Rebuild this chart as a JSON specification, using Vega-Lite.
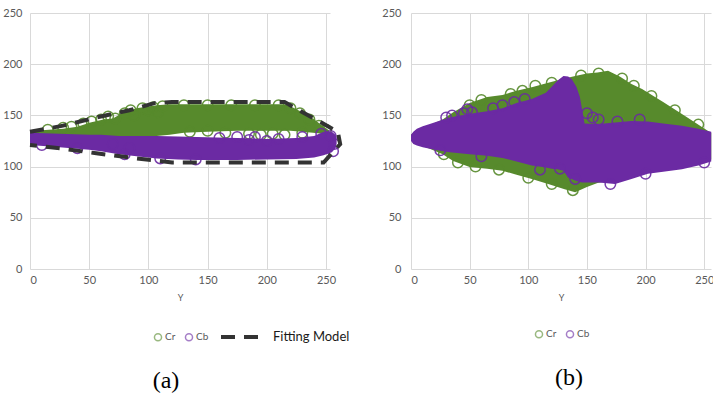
{
  "$schema": "https://vega.github.io/schema/vega-lite/v6.json",
  "background": "white",
  "padding": {"left": 2, "top": 7, "right": 0, "bottom": 0},
  "spacing": 32,
  "datasets": {
    "a_cr": [{"Y":0,"lo":128,"hi":134},{"Y":10,"lo":129,"hi":135.5},{"Y":28,"lo":129,"hi":137},{"Y":40,"lo":129,"hi":139},{"Y":51,"lo":129,"hi":143},{"Y":62,"lo":129,"hi":146},{"Y":70,"lo":129,"hi":147},{"Y":79,"lo":129,"hi":153},{"Y":90,"lo":129,"hi":157},{"Y":107,"lo":130,"hi":160},{"Y":118,"lo":131,"hi":161},{"Y":130,"lo":133,"hi":161},{"Y":150,"lo":134,"hi":161},{"Y":175,"lo":135,"hi":161},{"Y":200,"lo":135,"hi":161},{"Y":214,"lo":135,"hi":161},{"Y":220,"lo":135,"hi":159},{"Y":230,"lo":134,"hi":153},{"Y":239,"lo":133,"hi":147},{"Y":247,"lo":132,"hi":140},{"Y":253,"lo":131,"hi":135}],
    "a_cb": [{"Y":0,"lo":121,"hi":133},{"Y":25,"lo":119,"hi":132},{"Y":50,"lo":116.5,"hi":131},{"Y":60,"lo":115,"hi":131},{"Y":75,"lo":112,"hi":130},{"Y":90,"lo":110,"hi":130},{"Y":107,"lo":108,"hi":130},{"Y":125,"lo":107,"hi":129.5},{"Y":141,"lo":106.5,"hi":129},{"Y":175,"lo":106.5,"hi":128},{"Y":200,"lo":107,"hi":127},{"Y":225,"lo":107.5,"hi":128},{"Y":240,"lo":109,"hi":130},{"Y":248,"lo":111,"hi":134},{"Y":255,"lo":114,"hi":134},{"Y":258,"lo":118,"hi":131},{"Y":259,"lo":122,"hi":128}],
    "a_pts": [
      {"s":"Cr","Y":15,"v":136},{"s":"Cr","Y":28,"v":138},{"s":"Cr","Y":35,"v":139},{"s":"Cr","Y":45,"v":142},{"s":"Cr","Y":52,"v":144},{"s":"Cr","Y":60,"v":146},{"s":"Cr","Y":66,"v":149},{"s":"Cr","Y":72,"v":147},{"s":"Cr","Y":80,"v":152},{"s":"Cr","Y":85,"v":155},{"s":"Cr","Y":88,"v":150},{"s":"Cr","Y":95,"v":157},{"s":"Cr","Y":100,"v":155},{"s":"Cr","Y":104,"v":158},{"s":"Cr","Y":108,"v":153},{"s":"Cr","Y":112,"v":159},{"s":"Cr","Y":130,"v":160},{"s":"Cr","Y":150,"v":160},{"s":"Cr","Y":170,"v":160},{"s":"Cr","Y":190,"v":160},{"s":"Cr","Y":210,"v":160},{"s":"Cr","Y":220,"v":157},{"s":"Cr","Y":228,"v":152},{"s":"Cr","Y":236,"v":146},{"s":"Cr","Y":244,"v":140},{"s":"Cr","Y":250,"v":136},{"s":"Cr","Y":135,"v":134},{"s":"Cr","Y":150,"v":135},{"s":"Cr","Y":165,"v":133},{"s":"Cr","Y":185,"v":132},{"s":"Cr","Y":195,"v":131},{"s":"Cr","Y":205,"v":132},{"s":"Cr","Y":215,"v":131},{"s":"Cr","Y":230,"v":133},
      {"s":"Cb","Y":160,"v":128},{"s":"Cb","Y":185,"v":126},{"s":"Cb","Y":200,"v":125},{"s":"Cb","Y":210,"v":127},{"s":"Cb","Y":175,"v":129},{"s":"Cb","Y":190,"v":129},{"s":"Cb","Y":230,"v":129},{"s":"Cb","Y":246,"v":132},{"s":"Cb","Y":254,"v":130},{"s":"Cb","Y":257,"v":122},{"s":"Cb","Y":256,"v":115},{"s":"Cb","Y":110,"v":108},{"s":"Cb","Y":80,"v":112},{"s":"Cb","Y":40,"v":118},{"s":"Cb","Y":10,"v":121},{"s":"Cb","Y":140,"v":107},{"s":"Cb","Y":84,"v":118},{"s":"Cb","Y":70,"v":122}
    ],
    "a_fit": [{"m":"Fitting Model","i":1,"Y":0,"v":134},{"m":"Fitting Model","i":2,"Y":28,"v":140},{"m":"Fitting Model","i":3,"Y":56,"v":148},{"m":"Fitting Model","i":4,"Y":84,"v":155},{"m":"Fitting Model","i":5,"Y":105,"v":162},{"m":"Fitting Model","i":6,"Y":120,"v":163},{"m":"Fitting Model","i":7,"Y":215,"v":163},{"m":"Fitting Model","i":8,"Y":260,"v":134},{"m":"Fitting Model","i":9,"Y":262,"v":122},{"m":"Fitting Model","i":10,"Y":248,"v":104},{"m":"Fitting Model","i":11,"Y":120,"v":104},{"m":"Fitting Model","i":12,"Y":90,"v":108},{"m":"Fitting Model","i":13,"Y":56,"v":113},{"m":"Fitting Model","i":14,"Y":28,"v":117.5},{"m":"Fitting Model","i":15,"Y":0,"v":121}],
    "b_cr": [{"Y":0,"lo":126,"hi":131},{"Y":5,"lo":122,"hi":135},{"Y":15,"lo":118,"hi":140},{"Y":27,"lo":112,"hi":146},{"Y":36,"lo":105.5,"hi":153},{"Y":50,"lo":99.5,"hi":162},{"Y":65,"lo":98,"hi":168},{"Y":78,"lo":96,"hi":170},{"Y":90,"lo":92,"hi":174},{"Y":103,"lo":88,"hi":177.5},{"Y":117,"lo":83,"hi":182},{"Y":131,"lo":78,"hi":186},{"Y":140,"lo":75,"hi":188.5},{"Y":150,"lo":80,"hi":191},{"Y":159,"lo":84,"hi":192},{"Y":168,"lo":86,"hi":193.7},{"Y":178,"lo":90,"hi":188},{"Y":188,"lo":93,"hi":180.7},{"Y":197,"lo":95,"hi":175.8},{"Y":215,"lo":97,"hi":163},{"Y":235,"lo":100,"hi":148.5},{"Y":253,"lo":105,"hi":135},{"Y":256,"lo":107,"hi":133}],
    "b_cb": [{"Y":0,"lo":125,"hi":131},{"Y":2,"lo":122,"hi":134},{"Y":5,"lo":120.5,"hi":137},{"Y":10,"lo":119,"hi":139.5},{"Y":16,"lo":117.5,"hi":141.5},{"Y":25,"lo":115.5,"hi":145},{"Y":33,"lo":114,"hi":148},{"Y":50,"lo":112,"hi":151.5},{"Y":65,"lo":110.5,"hi":154},{"Y":78,"lo":108.5,"hi":157},{"Y":90,"lo":105,"hi":162},{"Y":103,"lo":101,"hi":166},{"Y":115,"lo":99,"hi":172},{"Y":120,"lo":98,"hi":178},{"Y":125,"lo":97.5,"hi":184},{"Y":130,"lo":96,"hi":188.5},{"Y":134,"lo":89,"hi":188},{"Y":137,"lo":88,"hi":185.5},{"Y":141,"lo":86,"hi":178},{"Y":144,"lo":85,"hi":168},{"Y":146,"lo":84.5,"hi":155},{"Y":148,"lo":84.5,"hi":142},{"Y":160,"lo":84.5,"hi":141.5},{"Y":174,"lo":83,"hi":143},{"Y":188,"lo":88,"hi":144.5},{"Y":202,"lo":93,"hi":144},{"Y":215,"lo":95,"hi":142},{"Y":231,"lo":97.5,"hi":140},{"Y":245,"lo":101,"hi":137},{"Y":256,"lo":105,"hi":134}],
    "b_pts": [
      {"s":"Cr","Y":106,"v":179},{"s":"Cr","Y":50,"v":160},{"s":"Cr","Y":60,"v":165},{"s":"Cr","Y":85,"v":171},{"s":"Cr","Y":95,"v":174},{"s":"Cr","Y":120,"v":182},{"s":"Cr","Y":145,"v":189},{"s":"Cr","Y":160,"v":191},{"s":"Cr","Y":180,"v":186},{"s":"Cr","Y":190,"v":179},{"s":"Cr","Y":40,"v":104},{"s":"Cr","Y":55,"v":100},{"s":"Cr","Y":75,"v":97},{"s":"Cr","Y":100,"v":89},{"s":"Cr","Y":120,"v":83},{"s":"Cr","Y":138,"v":77},{"s":"Cr","Y":28,"v":112},{"s":"Cr","Y":205,"v":169},{"s":"Cr","Y":225,"v":155},{"s":"Cr","Y":245,"v":141},
      {"s":"Cb","Y":35,"v":150},{"s":"Cb","Y":45,"v":152},{"s":"Cb","Y":52,"v":153},{"s":"Cb","Y":70,"v":157},{"s":"Cb","Y":78,"v":160},{"s":"Cb","Y":88,"v":163},{"s":"Cb","Y":97,"v":166},{"s":"Cb","Y":150,"v":152},{"s":"Cb","Y":155,"v":148},{"s":"Cb","Y":160,"v":146},{"s":"Cb","Y":176,"v":144},{"s":"Cb","Y":195,"v":146},{"s":"Cb","Y":110,"v":97},{"s":"Cb","Y":127,"v":98},{"s":"Cb","Y":60,"v":110},{"s":"Cb","Y":25,"v":116},{"s":"Cb","Y":140,"v":88},{"s":"Cb","Y":170,"v":83},{"s":"Cb","Y":200,"v":93},{"s":"Cb","Y":250,"v":104},{"s":"Cb","Y":48,"v":156},{"s":"Cb","Y":30,"v":148}
    ]
  },
  "hconcat": [
    {
      "width": 300,
      "height": 256,
      "title": {"text": "(a)", "orient": "bottom", "frame": "group", "dx": -14, "offset": 25},
      "layer": [
        {
          "data": {"name": "a_cr"},
          "mark": {"type": "area", "color": "#578a2c", "opacity": 1, "clip": false},
          "encoding": {
            "x": {"field": "Y", "type": "quantitative", "scale": {"domain": [0, 253.4], "nice": false, "zero": false},
                  "axis": {"values": [0, 50, 100, 150, 200, 250], "title": "Y", "labelPadding": 5, "titlePadding": 8}},
            "y": {"field": "hi", "type": "quantitative", "scale": {"domain": [0, 250], "nice": false},
                  "axis": {"values": [0, 50, 100, 150, 200, 250], "title": null, "labelPadding": 8}},
            "y2": {"field": "lo"}
          }
        },
        {
          "data": {"name": "a_pts"},
          "transform": [{"filter": "datum.s === 'Cr'"}],
          "mark": {"type": "point", "shape": "circle", "filled": false, "strokeWidth": 1.5, "size": 110, "opacity": 0.9, "clip": false},
          "encoding": {
            "x": {"field": "Y", "type": "quantitative"},
            "y": {"field": "v", "type": "quantitative"},
            "color": {"field": "s", "type": "nominal", "scale": {"domain": ["Cr", "Cb"], "range": ["#578a2c", "#6b2aa3"]},
                      "legend": {"orient": "none", "legendX": 123, "legendY": 319, "direction": "horizontal", "title": null}}
          }
        },
        {
          "data": {"name": "a_cb"},
          "mark": {"type": "area", "color": "#6b2aa3", "opacity": 1, "clip": false},
          "encoding": {
            "x": {"field": "Y", "type": "quantitative"},
            "y": {"field": "hi", "type": "quantitative"},
            "y2": {"field": "lo"}
          }
        },
        {
          "data": {"name": "a_pts"},
          "transform": [{"filter": "datum.s === 'Cb'"}],
          "mark": {"type": "point", "shape": "circle", "filled": false, "strokeWidth": 1.5, "size": 110, "opacity": 0.9, "clip": false},
          "encoding": {
            "x": {"field": "Y", "type": "quantitative"},
            "y": {"field": "v", "type": "quantitative"},
            "color": {"field": "s", "type": "nominal"}
          }
        },
        {
          "data": {"name": "a_fit"},
          "mark": {"type": "line", "color": "#333333", "strokeWidth": 4, "strokeCap": "butt", "clip": false},
          "encoding": {
            "x": {"field": "Y", "type": "quantitative"},
            "y": {"field": "v", "type": "quantitative"},
            "order": {"field": "i", "type": "quantitative"},
            "strokeDash": {"field": "m", "type": "nominal", "scale": {"domain": ["Fitting Model"], "range": [[14, 9]]},
                           "legend": {"orient": "none", "legendX": 189, "legendY": 301, "title": null, "labelFontSize": 13, "labelColor": "#1a1a1a",
                                      "symbolType": "stroke", "symbolSize": 1764, "symbolStrokeWidth": 4, "symbolStrokeColor": "#333333", "symbolOpacity": 1, "symbolDash": [15, 12], "labelOffset": 8}}
          }
        }
      ]
    },
    {
      "width": 300,
      "height": 256,
      "title": {"text": "(b)", "orient": "bottom", "frame": "group", "dx": 8, "offset": 25},
      "layer": [
        {
          "data": {"name": "b_cr"},
          "mark": {"type": "area", "color": "#578a2c", "opacity": 1, "clip": false},
          "encoding": {
            "x": {"field": "Y", "type": "quantitative", "scale": {"domain": [0, 255.8], "nice": false, "zero": false},
                  "axis": {"values": [0, 50, 100, 150, 200, 250], "title": "Y", "labelPadding": 5, "titlePadding": 8}},
            "y": {"field": "hi", "type": "quantitative", "scale": {"domain": [0, 250], "nice": false},
                  "axis": {"values": [0, 50, 100, 150, 200, 250], "title": null, "labelPadding": 10}},
            "y2": {"field": "lo"}
          }
        },
        {
          "data": {"name": "b_pts"},
          "transform": [{"filter": "datum.s === 'Cr'"}],
          "mark": {"type": "point", "shape": "circle", "filled": false, "strokeWidth": 1.5, "size": 110, "opacity": 0.9, "clip": false},
          "encoding": {
            "x": {"field": "Y", "type": "quantitative"},
            "y": {"field": "v", "type": "quantitative"},
            "color": {"field": "s", "type": "nominal", "scale": {"domain": ["Cr", "Cb"], "range": ["#578a2c", "#6b2aa3"]},
                      "legend": {"orient": "none", "legendX": 123, "legendY": 316, "direction": "horizontal", "title": null}}
          }
        },
        {
          "data": {"name": "b_cb"},
          "mark": {"type": "area", "color": "#6b2aa3", "opacity": 1, "clip": false},
          "encoding": {
            "x": {"field": "Y", "type": "quantitative"},
            "y": {"field": "hi", "type": "quantitative"},
            "y2": {"field": "lo"}
          }
        },
        {
          "data": {"name": "b_pts"},
          "transform": [{"filter": "datum.s === 'Cb'"}],
          "mark": {"type": "point", "shape": "circle", "filled": false, "strokeWidth": 1.5, "size": 110, "opacity": 0.9, "clip": false},
          "encoding": {
            "x": {"field": "Y", "type": "quantitative"},
            "y": {"field": "v", "type": "quantitative"},
            "color": {"field": "s", "type": "nominal"}
          }
        }
      ]
    }
  ],
  "resolve": {"scale": {"x": "independent", "y": "independent", "color": "independent"}, "legend": {"color": "independent"}},
  "config": {
    "view": {"stroke": null},
    "axis": {"grid": true, "gridColor": "#d9d9d9", "gridWidth": 1, "domain": false, "ticks": false,
             "labelFont": "Lato", "labelFontSize": 11, "labelColor": "#595959",
             "titleFont": "Lato", "titleFontSize": 9, "titleFontWeight": "normal", "titleColor": "#595959"},
    "legend": {"labelFont": "Lato", "labelFontSize": 10, "labelColor": "#595959", "symbolType": "circle", "symbolSize": 50,
               "symbolStrokeWidth": 1.5, "symbolOpacity": 0.6, "columnPadding": 6, "labelOffset": 2},
    "title": {"font": "Liberation Serif", "fontSize": 24, "fontWeight": "normal", "color": "#000000"}
  }
}
